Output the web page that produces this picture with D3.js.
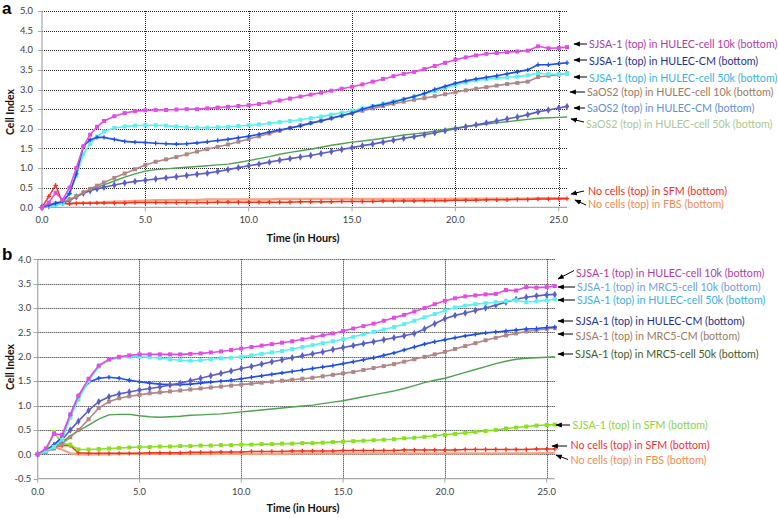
<!DOCTYPE html>
<html><head><meta charset="utf-8">
<script src="https://cdn.jsdelivr.net/npm/d3@7"></script>
<style>body{margin:0;background:#fff}svg{display:block}</style>
</head><body>
<svg id="c" width="778" height="518"></svg>
<script>
// ---------------- DATA ----------------
const timesA = [0,0.33,0.66,1,1.33,1.66,2,2.33,2.66,3,3.5,4,4.5,5,5.5,6,6.5,7,7.5,8,8.5,9,9.5,10,10.5,11,11.5,12,12.5,13,13.5,14,14.5,15,15.5,16,16.5,17,17.5,18,18.5,19,19.5,20,20.5,21,21.5,22,22.5,23,23.5,24,24.5,25,25.4];
const sjsaHulec10kA = [0,0.12,0.37,0.19,0.5,1.0,1.55,1.85,2.05,2.2, 2.32,2.4,2.45,2.47,2.48,2.48,2.49,2.5,2.5,2.52, 2.54,2.56,2.58,2.6,2.63,2.67,2.72,2.77,2.82,2.87, 2.92,2.97,3.02,3.07,3.13,3.2,3.27,3.34,3.4,3.45, 3.52,3.6,3.68,3.76,3.82,3.87,3.91,3.93,3.95,3.97, 3.99,4.1,4.05,4.06,4.08];
const sjsaHulecCmA = [0,0.05,0.1,0.15,0.35,0.85,1.55,1.72,1.78,1.78, 1.73,1.68,1.66,1.65,1.63,1.62,1.61,1.62,1.64,1.67, 1.7,1.73,1.77,1.81,1.86,1.92,1.97,2.02,2.07,2.14, 2.2,2.27,2.33,2.4,2.5,2.57,2.62,2.68,2.75,2.82, 2.9,3.0,3.08,3.16,3.22,3.27,3.31,3.35,3.4,3.45, 3.5,3.63,3.63,3.66,3.68];
const sjsaHulec50kA = [0,0.03,0.05,0.1,0.36,0.8,1.35,1.62,1.8,1.93, 2.02,2.06,2.08,2.09,2.09,2.08,2.06,2.04,2.03,2.03, 2.04,2.05,2.07,2.09,2.11,2.14,2.17,2.2,2.23,2.27, 2.31,2.36,2.41,2.46,2.52,2.58,2.64,2.7,2.76,2.82, 2.89,2.96,3.04,3.12,3.18,3.23,3.26,3.29,3.31,3.33, 3.36,3.42,3.39,3.39,3.4];
const saos2Hulec10kA = [0,0.05,0.1,0.14,0.2,0.28,0.38,0.47,0.55,0.63, 0.75,0.86,0.97,1.08,1.16,1.22,1.28,1.35,1.42,1.48, 1.54,1.6,1.67,1.74,1.81,1.88,1.95,2.02,2.09,2.15, 2.21,2.27,2.34,2.4,2.46,2.52,2.58,2.64,2.69,2.74, 2.78,2.83,2.88,2.93,2.98,3.02,3.06,3.1,3.14,3.17, 3.2,3.32,3.35,3.38,3.41];
const saos2HulecCmA = [0,0.04,0.08,0.12,0.18,0.27,0.36,0.42,0.47,0.51, 0.57,0.62,0.66,0.69,0.72,0.75,0.78,0.81,0.84,0.87, 0.91,0.96,1.01,1.06,1.1,1.15,1.2,1.24,1.28,1.32, 1.37,1.42,1.47,1.52,1.57,1.61,1.66,1.71,1.76,1.8, 1.85,1.9,1.95,2.0,2.05,2.1,2.15,2.2,2.25,2.3, 2.36,2.43,2.48,2.53,2.57];
const saos2Hulec50kA = [0,0.03,0.06,0.1,0.18,0.27,0.37,0.44,0.51,0.57, 0.67,0.77,0.85,0.92,0.96,0.98,1.0,1.02,1.04,1.06, 1.08,1.1,1.14,1.19,1.24,1.29,1.35,1.4,1.44,1.48, 1.53,1.58,1.62,1.66,1.69,1.72,1.76,1.8,1.84,1.87, 1.9,1.94,1.98,2.02,2.06,2.09,2.12,2.15,2.18,2.21, 2.24,2.27,2.28,2.29,2.3];
const noCellsSfmA = [0,0.28,0.56,0.1,0.09,0.1,0.1,0.1,0.11,0.11, 0.11,0.11,0.12,0.12,0.12,0.12,0.12,0.12,0.12,0.12, 0.13,0.13,0.13,0.13,0.13,0.13,0.13,0.13,0.14,0.14, 0.14,0.14,0.15,0.15,0.15,0.15,0.16,0.16,0.16,0.16, 0.17,0.17,0.17,0.18,0.18,0.18,0.19,0.19,0.19,0.2, 0.2,0.21,0.21,0.22,0.22];
const noCellsFbsA = [0,0.04,0.08,0.1,0.1,0.11,0.11,0.12,0.12,0.13, 0.14,0.15,0.16,0.17,0.18,0.18,0.19,0.19,0.19,0.2, 0.2,0.2,0.2,0.2,0.2,0.2,0.21,0.21,0.21,0.21, 0.21,0.21,0.21,0.21,0.21,0.21,0.21,0.21,0.21,0.21, 0.21,0.21,0.21,0.22,0.22,0.22,0.22,0.22,0.22,0.22, 0.22,0.23,0.23,0.23,0.23];

const timesB = [0,0.4,0.8,1.2,1.6,2,2.5,3,3.5,4,4.5,5,5.5,6,6.5,7,7.5,8,8.5,9,9.5,10,10.5,11,11.5,12,12.5,13,13.5,14,14.5,15,15.5,16,16.5,17,17.5,18,18.5,19,19.5,20,20.5,21,21.5,22,22.5,23,23.5,24,24.5,25,25.4];
const sjsaHulec10kB = [0,0.12,0.42,0.4,0.82,1.2,1.55,1.82,1.95,2.0, 2.03,2.05,2.05,2.05,2.05,2.05,2.06,2.07,2.09,2.11, 2.14,2.17,2.2,2.23,2.26,2.29,2.32,2.36,2.4,2.44, 2.48,2.53,2.58,2.63,2.68,2.74,2.8,2.86,2.93,3.0, 3.08,3.15,3.2,3.24,3.26,3.28,3.29,3.37,3.36,3.43, 3.42,3.43,3.45];
const sjsaMrc510kB = [0,0.08,0.18,0.3,0.5,0.68,0.9,1.08,1.18,1.24, 1.28,1.32,1.35,1.38,1.42,1.46,1.51,1.56,1.61,1.66, 1.71,1.76,1.8,1.85,1.9,1.94,1.98,2.02,2.06,2.1, 2.15,2.19,2.23,2.27,2.31,2.35,2.39,2.43,2.48,2.57, 2.68,2.78,2.85,2.9,2.95,3.0,3.06,3.12,3.18,3.22, 3.25,3.27,3.28];
const sjsaHulec50kB = [0,0.06,0.15,0.3,0.75,1.12,1.5,1.8,1.93,1.98, 2.0,2.0,1.99,1.97,1.95,1.93,1.92,1.93,1.95,1.97, 1.98,2.0,2.03,2.06,2.09,2.12,2.16,2.2,2.24,2.28, 2.32,2.36,2.41,2.46,2.51,2.56,2.61,2.67,2.74,2.81, 2.88,2.95,3.01,3.05,3.08,3.1,3.12,3.14,3.16,3.12, 3.14,3.16,3.18];
const sjsaHulecCmB = [0,0.08,0.2,0.35,0.8,1.2,1.48,1.56,1.58,1.56, 1.52,1.49,1.46,1.44,1.43,1.43,1.44,1.46,1.48,1.5, 1.52,1.55,1.58,1.61,1.64,1.67,1.7,1.73,1.76,1.79, 1.82,1.86,1.9,1.94,1.98,2.03,2.08,2.14,2.2,2.26, 2.31,2.35,2.39,2.43,2.46,2.49,2.51,2.53,2.55,2.57, 2.58,2.6,2.61];
const sjsaMrc5CmB = [0,0.05,0.12,0.22,0.35,0.5,0.72,0.95,1.08,1.15, 1.19,1.22,1.25,1.27,1.29,1.31,1.33,1.35,1.37,1.39, 1.41,1.43,1.45,1.47,1.49,1.51,1.53,1.55,1.57,1.6, 1.63,1.66,1.69,1.73,1.77,1.81,1.85,1.9,1.95,2.0, 2.05,2.1,2.16,2.22,2.28,2.34,2.39,2.44,2.48,2.52, 2.55,2.57,2.59];
const sjsaMrc550kB = [0,0.06,0.14,0.25,0.38,0.48,0.6,0.72,0.81,0.82, 0.82,0.79,0.77,0.76,0.77,0.78,0.8,0.81,0.82,0.83, 0.85,0.87,0.89,0.91,0.93,0.95,0.97,0.99,1.01,1.04, 1.07,1.1,1.14,1.18,1.22,1.26,1.3,1.35,1.41,1.47, 1.52,1.56,1.62,1.68,1.74,1.8,1.86,1.91,1.95,1.97, 1.98,1.99,2.0];
const sjsaSfmB = [0,0.05,0.46,0.22,0.2,0.1,0.1,0.11,0.12,0.13, 0.14,0.15,0.15,0.16,0.16,0.17,0.17,0.18,0.18,0.19, 0.19,0.2,0.2,0.21,0.21,0.22,0.22,0.23,0.23,0.24, 0.25,0.26,0.27,0.28,0.29,0.3,0.31,0.33,0.34,0.36, 0.38,0.4,0.42,0.44,0.46,0.48,0.5,0.53,0.55,0.57, 0.59,0.6,0.61];
const noCellsSfmB = [0,0.1,0.15,0.18,0.18,0.03,0.02,0.02,0.02,0.02, 0.02,0.02,0.03,0.03,0.03,0.03,0.04,0.04,0.04,0.05, 0.05,0.05,0.06,0.06,0.06,0.06,0.07,0.07,0.07,0.07, 0.07,0.08,0.08,0.08,0.08,0.08,0.08,0.09,0.09,0.09, 0.09,0.09,0.09,0.1,0.1,0.1,0.1,0.1,0.1,0.1, 0.11,0.11,0.11];
const noCellsFbsB = [0,0.08,0.14,0.1,0.02,0,0,0,0,0.01, 0.01,0.01,0.01,0.01,0.01,0.01,0.01,0.01,0.01,0.01, 0.01,0.01,0.01,0.01,0.01,0.01,0.02,0.02,0.02,0.02, 0.02,0.02,0.02,0.02,0.02,0.02,0.02,0.02,0.02,0.02, 0.02,0.02,0.02,0.02,0.02,0.02,0.02,0.02,0.02,0.02, 0.02,0.03,0.03];

const yTicksA = ["0.0","0.5","1.0","1.5","2.0","2.5","3.0","3.5","4.0","4.5","5.0"];
const yTicksB = ["-0.5","0.0","0.5","1.0","1.5","2.0","2.5","3.0","3.5","4.0"];
const xTicks = ["0.0","5.0","10.0","15.0","20.0","25.0"];

// ---------------- STYLE / LAYOUT ----------------
const C = {
  magenta:"#e34be6", blue:"#1f4de6", cyan:"#5af0f0", brown:"#b08686",
  slate:"#5a5ec6", green:"#4ea24e", red:"#f2321e", orange:"#f8a17e", lime:"#86e21a"
};
const T = {
  purple:"#b03aa8", navy:"#1e2f8c", sky:"#38b2e2", brown:"#9c7a62",
  lblue:"#5f8fd8", lgreen:"#a9c98f", red:"#f03030", orange:"#f08a55",
  dgreen:"#3f5b2b", mblue:"#6d9fd8", lime:"#8fd044"
};

const svg = d3.select("#c");
const defs = svg.append("defs");
defs.append("marker").attr("id","ah").attr("viewBox","0 0 10 10").attr("refX",9).attr("refY",5)
  .attr("markerWidth",6.5).attr("markerHeight",6.5).attr("orient","auto")
  .append("path").attr("d","M0,1 L10,5 L0,9 Z").attr("fill","#000");

const FONT = "Lato, 'Open Sans', sans-serif";

function drawPanel(cfg){
  const g = svg.append("g");
  const x = d3.scaleLinear().domain([0,25.4]).range([cfg.x0, cfg.x1]);
  const y = d3.scaleLinear().domain(cfg.yDomain).range([cfg.yBot, cfg.yTop]);
  const yVals = cfg.yTicks.map(Number);
  const xVals = xTicks.map(Number);
  g.selectAll(".hg").data(yVals.filter(v=>v!==cfg.yDomain[0])).enter().append("line")
    .attr("x1",cfg.x0).attr("x2",cfg.x1).attr("y1",d=>Math.round(y(d))+0.5).attr("y2",d=>Math.round(y(d))+0.5)
    .attr("stroke","#222").attr("stroke-width",1).attr("stroke-dasharray","1,1");
  g.selectAll(".vg").data(xVals.filter(v=>v>0)).enter().append("line")
    .attr("x1",d=>Math.round(x(d))+0.5).attr("x2",d=>Math.round(x(d))+0.5).attr("y1",cfg.yTop).attr("y2",cfg.yBot)
    .attr("stroke","#222").attr("stroke-width",1).attr("stroke-dasharray","1,1");
  g.append("line").attr("x1",cfg.x0).attr("x2",cfg.x0).attr("y1",cfg.yTop).attr("y2",cfg.yBot)
    .attr("stroke","#a8a8a8").attr("stroke-width",1.2);
  g.append("line").attr("x1",cfg.x0).attr("x2",cfg.x1).attr("y1",cfg.yBot).attr("y2",cfg.yBot)
    .attr("stroke","#a8a8a8").attr("stroke-width",1.2);
  g.selectAll(".yt").data(yVals).enter().append("line")
    .attr("x1",cfg.x0-4).attr("x2",cfg.x0).attr("y1",d=>Math.round(y(d))+0.5).attr("y2",d=>Math.round(y(d))+0.5)
    .attr("stroke","#a8a8a8");
  g.selectAll(".xt").data(xVals).enter().append("line")
    .attr("x1",d=>x(d)).attr("x2",d=>x(d)).attr("y1",cfg.yBot).attr("y2",cfg.yBot+4)
    .attr("stroke","#a8a8a8");
  g.selectAll(".yl").data(cfg.yTicks).enter().append("text")
    .attr("x",cfg.x0-cfg.yLabOff).attr("y",d=>y(+d)+3.2).attr("text-anchor","end")
    .attr("font-family",FONT).attr("font-size",9.4).attr("fill","#404040").text(d=>d);
  g.selectAll(".xl").data(xTicks).enter().append("text")
    .attr("x",d=>x(+d)).attr("y",cfg.yBot+16).attr("text-anchor","middle")
    .attr("font-family",FONT).attr("font-size",9.4).attr("fill","#404040").text(d=>d);
  g.append("text").attr("transform",`translate(${cfg.yTitle[0]},${cfg.yTitle[1]}) rotate(-90)`)
    .attr("text-anchor","middle").attr("font-family",FONT).attr("font-weight","bold")
    .attr("font-size",10.5).attr("fill","#111").text("Cell Index");
  g.append("text").attr("x",cfg.xTitle[0]).attr("y",cfg.xTitle[1]).attr("text-anchor","middle")
    .attr("font-family",FONT).attr("font-weight","bold").attr("font-size",10.8).attr("fill","#111")
    .text("Time (in Hours)");
  g.append("text").attr("x",cfg.letter[0]).attr("y",cfg.letter[1]).attr("font-family","'Liberation Sans', Arial, sans-serif")
    .attr("font-weight","bold").attr("font-size",17).attr("fill","#000").text(cfg.letterText);
  const line = d3.line().x(d=>x(d[0])).y(d=>y(d[1]));
  cfg.series.forEach(s=>{
    const pts = cfg.times.map((t,i)=>[t,s.values[i]]);
    g.append("path").attr("d",line(pts)).attr("fill","none").attr("stroke",s.color)
      .attr("stroke-width",s.width||1.6).attr("stroke-linejoin","round");
    if(s.marker){
      const mg = g.append("g");
      pts.forEach(p=>{
        const px=x(p[0]), py=y(p[1]);
        if(s.marker==="square"){
          mg.append("rect").attr("x",px-2).attr("y",py-2).attr("width",4).attr("height",4).attr("fill",s.color);
        } else if(s.marker==="plus"){
          mg.append("path").attr("d",`M${px-2.2},${py}H${px+2.2}M${px},${py-2.2}V${py+2.2}`)
            .attr("stroke",s.color).attr("stroke-width",1.3);
        } else if(s.marker==="diamond"){
          mg.append("path").attr("d",d3.symbol(d3.symbolDiamond,16)()).attr("transform",`translate(${px},${py})`).attr("fill",s.color);
        }
      });
    }
  });
  cfg.labels.forEach(l=>{
    g.append("line").attr("x1",l.a[0]).attr("y1",l.a[1]).attr("x2",l.a[2]).attr("y2",l.a[3])
      .attr("stroke","#000").attr("stroke-width",1).attr("marker-end","url(#ah)");
    g.append("text").attr("x",l.p[0]).attr("y",l.p[1]+3.8).attr("font-family",FONT)
      .attr("font-size",10.7).attr("fill",l.c).text(l.t);
  });
}

drawPanel({
  x0:42, x1:567, yTop:11, yBot:207.3, yDomain:[0,5], yTicks:yTicksA, times:timesA, yLabOff:9,
  yTitle:[14,112], xTitle:[303,242], letter:[2,14], letterText:"a",
  series:[
    {values:noCellsFbsA, color:C.orange, width:2.4},
    {values:noCellsSfmA, color:C.red, marker:"plus", width:1.5},
    {values:saos2Hulec50kA, color:C.green, width:1.4},
    {values:saos2HulecCmA, color:C.slate, marker:"diamond"},
    {values:saos2Hulec10kA, color:C.brown, marker:"square"},
    {values:sjsaHulec50kA, color:C.cyan, marker:"square"},
    {values:sjsaHulecCmA, color:C.blue, marker:"plus"},
    {values:sjsaHulec10kA, color:C.magenta, marker:"square"}
  ],
  labels:[
    {t:"SJSA-1 (top) in HULEC-cell 10k (bottom)", c:T.purple, p:[589,44], a:[587,44,574,44]},
    {t:"SJSA-1 (top) in HULEC-CM (bottom)", c:T.navy, p:[589,61], a:[587,60,574,60]},
    {t:"SJSA-1 (top) in HULEC-cell 50k (bottom)", c:T.sky, p:[589,78], a:[587,77,574,77]},
    {t:"SaOS2 (top) in HULEC-cell 10k (bottom)", c:T.brown, p:[587,92], a:[585,92,570,92]},
    {t:"SaOS2 (top) in HULEC-CM (bottom)", c:T.lblue, p:[587,108], a:[585,108,574,108]},
    {t:"SaOS2 (top) in HULEC-cell 50k (bottom)", c:T.lgreen, p:[586,124], a:[584,122,571,119]},
    {t:"No cells (top) in SFM (bottom)", c:T.red, p:[588,191], a:[584,191,571,194]},
    {t:"No cells (top) in FBS (bottom)", c:T.orange, p:[588,204], a:[586,205,575,200]}
  ]
});

drawPanel({
  x0:37.7, x1:554.8, yTop:259.3, yBot:478.7, yDomain:[-0.5,4], yTicks:yTicksB, times:timesB, yLabOff:6.5,
  yTitle:[14,367], xTitle:[303,512], letter:[2,260], letterText:"b",
  series:[
    {values:noCellsFbsB, color:C.orange, width:2.2},
    {values:noCellsSfmB, color:C.red, marker:"plus", width:1.5},
    {values:sjsaSfmB, color:C.lime, marker:"square"},
    {values:sjsaMrc550kB, color:C.green, width:1.4},
    {values:sjsaMrc5CmB, color:C.brown, marker:"square"},
    {values:sjsaHulecCmB, color:C.blue, marker:"plus"},
    {values:sjsaMrc510kB, color:C.slate, marker:"diamond"},
    {values:sjsaHulec50kB, color:C.cyan, marker:"square"},
    {values:sjsaHulec10kB, color:C.magenta, marker:"square"}
  ],
  labels:[
    {t:"SJSA-1 (top) in HULEC-cell 10k (bottom)", c:T.purple, p:[576,273], a:[574,270.5,558,279]},
    {t:"SJSA-1 (top) in MRC5-cell 10k (bottom)", c:T.mblue, p:[577,287], a:[575,287,558,287]},
    {t:"SJSA-1 (top) in HULEC-cell 50k (bottom)", c:T.sky, p:[577,300], a:[575,300,558,300]},
    {t:"SJSA-1 (top) in HULEC-CM (bottom)", c:T.navy, p:[575.5,321.5], a:[573,321,558,321]},
    {t:"SJSA-1 (top) in MRC5-CM (bottom)", c:T.brown, p:[575.5,336.5], a:[573,334,558,334]},
    {t:"SJSA-1 (top) in MRC5-cell 50k (bottom)", c:T.dgreen, p:[575,354], a:[573,354,558,354]},
    {t:"SJSA-1 (top) in SFM (bottom)", c:T.lime, p:[572.5,425], a:[570,425,556,425]},
    {t:"No cells (top) in SFM (bottom)", c:T.red, p:[570.5,445], a:[567,446,552,446]},
    {t:"No cells (top) in FBS (bottom)", c:T.orange, p:[570.5,460], a:[568,459.5,556,455]}
  ]
});
</script>
</body></html>
